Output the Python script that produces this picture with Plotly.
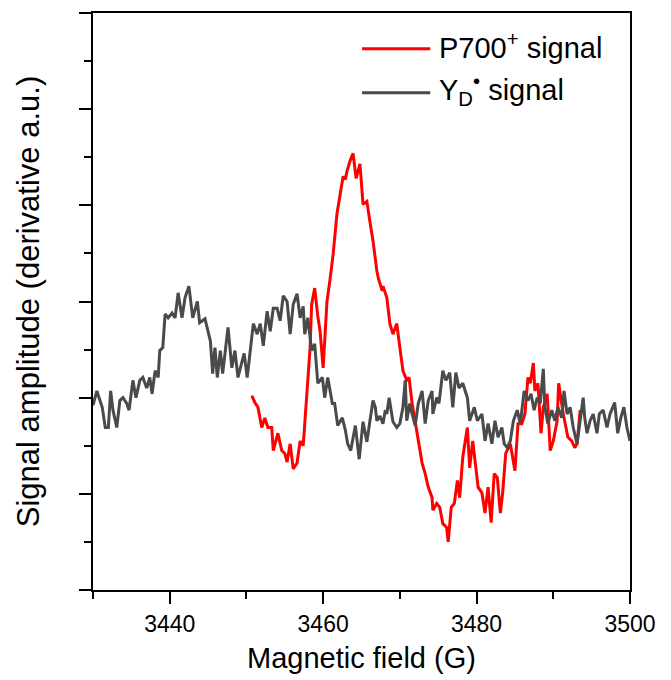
import plotly.graph_objects as go

# ---- data ----
field_yd = [3430.0, 3430.5, 3431.2, 3431.6, 3432.0, 3432.3, 3432.6, 3433.1, 3433.5, 3433.9,
            3434.4, 3434.7, 3435.2, 3435.6, 3436.1, 3436.5, 3437.0, 3437.4, 3437.7, 3438.1,
            3438.5, 3438.7, 3439.1, 3439.4, 3439.8, 3440.3, 3440.7, 3441.1, 3441.6, 3442.0,
            3442.5, 3443.0, 3443.6, 3443.9, 3444.6, 3445.3, 3445.6, 3445.9, 3446.2, 3446.6,
            3446.9, 3447.2, 3447.6, 3448.1, 3448.5, 3448.9, 3449.4, 3449.7, 3450.1, 3450.5,
            3450.9, 3451.4, 3451.8, 3452.2, 3452.7, 3453.1, 3453.5, 3454.0, 3454.4, 3454.8,
            3455.3, 3455.7, 3456.1, 3456.6, 3457.0, 3457.4, 3457.6, 3458.0, 3458.5, 3458.9,
            3459.3, 3459.9, 3460.2, 3460.6, 3461.2, 3461.5, 3461.9, 3462.5, 3462.9, 3463.2,
            3463.6, 3464.2, 3464.7, 3465.2, 3465.7, 3466.1, 3466.5, 3466.8, 3467.0, 3467.4,
            3467.8, 3468.1, 3468.3, 3468.6, 3469.1, 3469.6, 3470.0, 3470.4, 3470.7, 3470.9,
            3471.3, 3471.6, 3472.0, 3472.4, 3472.9, 3473.3, 3473.7, 3474.2, 3474.3, 3474.8,
            3475.1, 3475.6, 3476.0, 3476.5, 3476.9, 3477.3, 3477.7, 3478.2, 3478.8, 3479.1,
            3479.7, 3480.1, 3480.7, 3481.1, 3481.5, 3482.0, 3482.4, 3482.8, 3483.3, 3483.6,
            3484.0, 3484.4, 3484.8, 3485.3, 3485.7, 3486.2, 3486.7, 3487.1, 3487.5, 3487.9,
            3488.3, 3488.7, 3488.9, 3489.3, 3489.8, 3490.2, 3490.6, 3491.1, 3491.4, 3491.8,
            3492.2, 3492.6, 3493.1, 3493.5, 3493.9, 3494.1, 3494.4, 3494.8, 3495.2, 3495.7,
            3496.0, 3496.5, 3497.0, 3497.4, 3498.0, 3498.4, 3498.8, 3499.2, 3499.6, 3500.0]
signal_yd = [-0.08, 0.07, -0.10, -0.31, -0.31, 0.07, -0.13, -0.31, -0.03, 0.00,
             -0.06, -0.13, 0.18, 0.00, 0.18, 0.21, 0.10, 0.21, 0.04, 0.28,
             0.21, 0.49, 0.52, 0.87, 0.83, 0.88, 0.83, 1.09, 0.83, 1.04,
             1.16, 0.83, 1.00, 0.78, 0.82, 0.59, 0.25, 0.52, 0.21, 0.49,
             0.25, 0.46, 0.73, 0.31, 0.49, 0.21, 0.35, 0.46, 0.21, 0.52,
             0.77, 0.66, 0.77, 0.54, 0.90, 0.69, 0.93, 0.93, 0.80, 1.06,
             1.00, 0.66, 0.97, 1.08, 0.83, 0.95, 0.66, 0.83, 0.49, 0.56,
             0.15, 0.21, 0.00, 0.21, -0.06, -0.06, -0.29, -0.21, -0.34, -0.48,
             -0.55, -0.29, -0.64, -0.25, -0.46, -0.24, -0.03, -0.10, -0.24, -0.19,
             -0.27, -0.13, -0.17, 0.00, -0.25, -0.31, -0.27, -0.10, 0.18, -0.24,
             -0.06, -0.17, -0.29, -0.06, 0.07, -0.27, -0.03, 0.07, -0.17, 0.00,
             -0.06, 0.28, 0.18, 0.26, -0.10, 0.26, 0.10, 0.15, 0.00, -0.24,
             -0.10, -0.24, -0.17, -0.45, -0.27, -0.48, -0.24, -0.41, -0.31, -0.48,
             -0.52, -0.45, -0.24, -0.13, -0.27, 0.07, -0.03, 0.04, -0.13, 0.00,
             -0.06, 0.30, -0.10, -0.27, -0.13, -0.24, -0.10, -0.21, 0.07, -0.17,
             -0.10, -0.31, -0.48, -0.24, 0.00, -0.21, -0.37, -0.24, -0.17, -0.37,
             -0.17, -0.13, -0.31, -0.17, -0.05, -0.37, -0.21, -0.10, -0.31, -0.45]

field_p700 = [3450.7, 3451.1, 3451.5, 3452.0, 3452.4, 3452.8, 3453.3, 3453.5, 3454.1, 3454.6,
              3455.0, 3455.3, 3455.7, 3456.1, 3456.6, 3457.0, 3457.4, 3457.6, 3458.0, 3458.3,
              3458.5, 3458.9, 3459.3, 3459.6, 3460.0, 3460.2, 3460.5, 3460.9, 3461.3, 3461.8,
              3462.1, 3462.5, 3462.6, 3462.9, 3463.1, 3463.5, 3463.9, 3464.3, 3464.8, 3465.2,
              3465.7, 3466.1, 3466.5, 3467.0, 3467.2, 3467.7, 3467.8, 3468.3, 3468.7, 3469.1,
              3469.6, 3470.0, 3470.4, 3470.9, 3471.2, 3471.6, 3472.0, 3472.4, 3472.9, 3473.3,
              3473.7, 3474.2, 3474.3, 3474.8, 3475.2, 3475.6, 3476.1, 3476.3, 3476.7, 3477.1,
              3477.5, 3477.8, 3478.2, 3478.8, 3479.1, 3479.5, 3479.9, 3480.2, 3480.7, 3481.1,
              3481.5, 3481.9, 3482.3, 3482.7, 3483.1, 3483.4, 3483.8, 3484.4, 3485.0, 3485.4,
              3485.9, 3486.3, 3486.7, 3487.0, 3487.4, 3487.6, 3488.0, 3488.4, 3488.7, 3489.2,
              3489.6, 3490.0, 3490.5, 3490.7, 3491.3, 3491.7, 3491.9, 3492.4, 3492.8, 3493.1,
              3493.5]
signal_p700 = [0.02, -0.05, -0.10, -0.31, -0.21, -0.31, -0.31, -0.55, -0.37, -0.55,
               -0.58, -0.67, -0.48, -0.74, -0.68, -0.45, -0.50, -0.27, 0.10, 0.52,
               0.97, 1.14, 0.85, 0.69, 0.31, 0.56, 1.00, 1.23, 1.49, 1.91,
               2.07, 2.25, 2.30, 2.27, 2.35, 2.46, 2.54, 2.28, 2.43, 2.01,
               2.04, 1.83, 1.63, 1.32, 1.24, 1.11, 1.16, 1.04, 0.77, 0.66,
               0.77, 0.52, 0.28, 0.18, 0.21, -0.06, -0.24, -0.45, -0.68, -0.79,
               -0.93, -1.04, -1.17, -1.10, -1.14, -1.31, -1.35, -1.50, -1.14, -1.10,
               -0.86, -1.04, -0.62, -0.31, -0.73, -0.45, -0.76, -0.93, -0.99, -1.20,
               -0.93, -1.30, -0.79, -0.83, -1.20, -0.99, -0.58, -0.48, -0.76, -0.27,
               -0.27, -0.17, 0.21, 0.15, 0.36, 0.07, 0.15, -0.37, -0.10, 0.04,
               -0.55, -0.45, -0.24, 0.15, -0.17, -0.34, -0.41, -0.45, -0.52, -0.48,
               -0.13]

x_tick_vals = [3440, 3460, 3480, 3500]
x_tick_text = ["3440", "3460", "3480", "3500"]
legend_labels = ["P700<sup>+</sup> signal", "Y<sub>D</sub><sup>\u2022</sup> signal"]

RED = "rgb(255,0,0)"
GRAY = "rgb(74,74,74)"
FONT = "Liberation Sans, Arial, sans-serif"
LW = 3

fig = go.Figure()
fig.add_trace(go.Scatter(x=field_p700, y=signal_p700, mode="lines",
                         line=dict(color=RED, width=LW), name=legend_labels[0],
                         showlegend=False))
fig.add_trace(go.Scatter(x=field_yd, y=signal_yd, mode="lines",
                         line=dict(color=GRAY, width=LW), name=legend_labels[1],
                         showlegend=False))

# custom legend (long sample lines as in the reference)
legend_rows = [(0.938, RED, legend_labels[0]), (0.862, GRAY, legend_labels[1])]
for yy, col, lab in legend_rows:
    fig.add_shape(type="line", xref="paper", yref="paper", x0=0.501, x1=0.628,
                  y0=yy, y1=yy, line=dict(color=col, width=LW))
    fig.add_annotation(xref="paper", yref="paper", x=0.640, y=yy + 0.004, text=lab,
                       showarrow=False, xanchor="left", yanchor="middle",
                       font=dict(family=FONT, size=29, color="black"))

fig.update_layout(
    width=671, height=680,
    margin=dict(l=93, r=41, t=11, b=90),
    paper_bgcolor="white", plot_bgcolor="white",
    font=dict(family=FONT, color="black"),
    showlegend=False,
)
fig.update_xaxes(
    range=[3430, 3500], tickvals=x_tick_vals, ticktext=x_tick_text,
    ticks="outside", ticklen=12, tickwidth=2, tickcolor="black",
    minor=dict(dtick=10, tick0=3430, ticks="outside", ticklen=7, tickwidth=2, tickcolor="black"),
    showline=True, linecolor="black", linewidth=2, mirror=True,
    showgrid=False, zeroline=False,
    tickfont=dict(family=FONT, size=23, color="black"),
    title=dict(text="Magnetic field (G)", font=dict(family=FONT, size=29, color="black"), standoff=12),
)
fig.update_yaxes(
    range=[-2, 4], dtick=1, tick0=0,
    ticks="outside", ticklen=12, tickwidth=2, tickcolor="black",
    minor=dict(dtick=0.5, tick0=0, ticks="outside", ticklen=7, tickwidth=2, tickcolor="black"),
    showline=True, linecolor="black", linewidth=2, mirror=True,
    showgrid=False, zeroline=False, showticklabels=False,
    title=dict(text="Signal amplitude (derivative a.u.)", font=dict(family=FONT, size=31, color="black"), standoff=30),
)

fig.write_html("out.html")
